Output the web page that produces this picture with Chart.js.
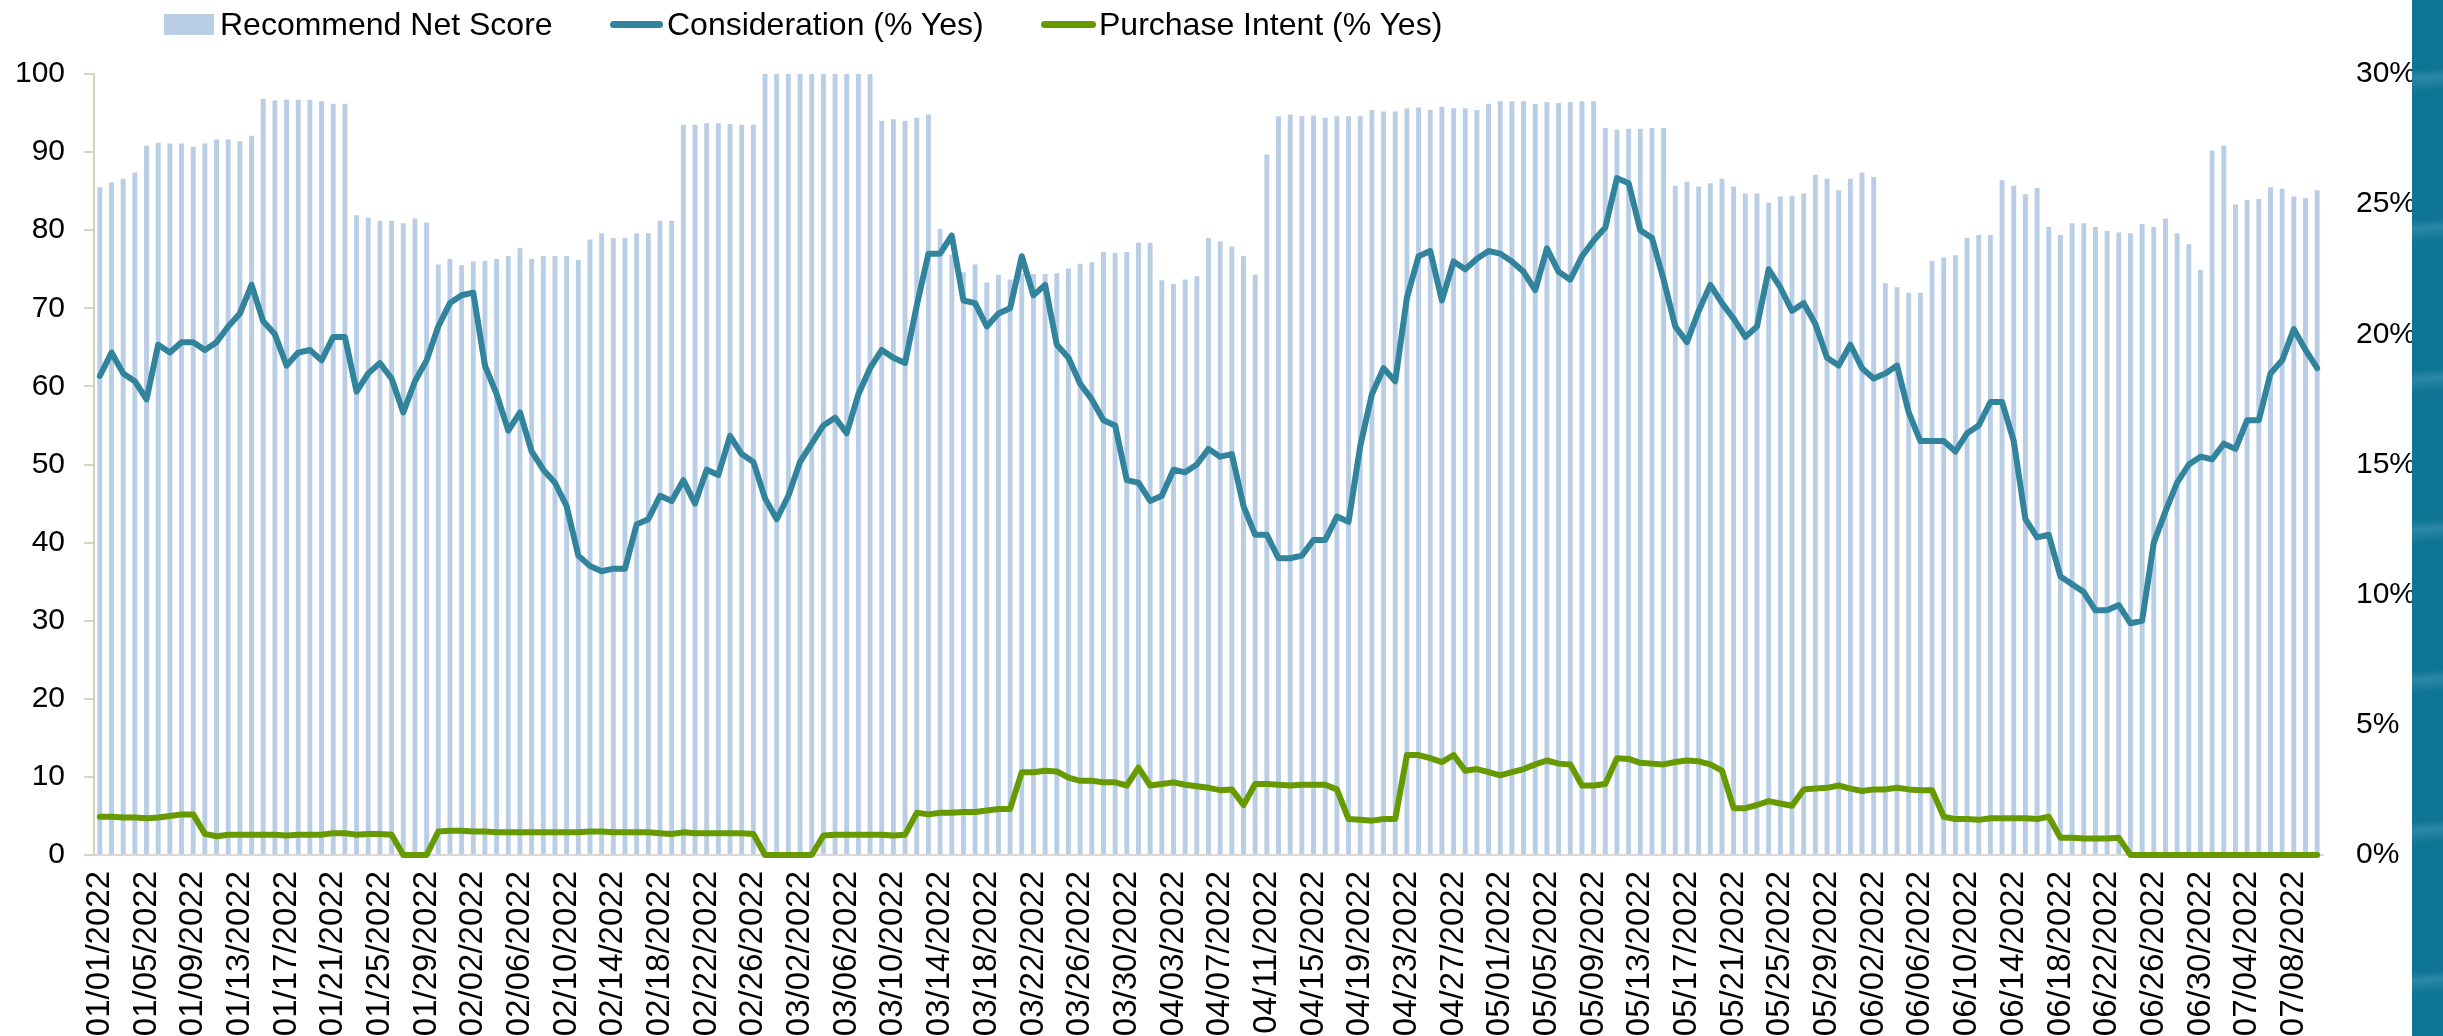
<!DOCTYPE html>
<html>
<head>
<meta charset="utf-8">
<script src="https://cdn.jsdelivr.net/npm/chart.js@4"></script>
<style>
  html, body { margin: 0; padding: 0; background: #fff; }
  #wrap { position: relative; width: 2443px; height: 1036px; overflow: hidden; font-family: "Liberation Sans", Arial, sans-serif; }
  #graphique { position: absolute; left: 0; top: 0; }
  .leg { position: absolute; top: 8px; font-size: 32px; line-height: 32px; color: #000; white-space: nowrap; }
  .leg-box { position: absolute; left: 164px; top: 14px; width: 50px; height: 21px; background: #B9CDE5; }
  .leg-line { position: absolute; top: 21px; height: 7px; border-radius: 4px; }
  #bande { position: absolute; left: 2412px; top: 0; width: 31px; height: 1036px;
    background: repeating-linear-gradient(176deg, #0f7594 0px, #0f7594 70px, #2a88a5 78px, #0f7594 92px, #0f7594 150px); }
</style>
</head>
<body>
<div id="wrap">
  <canvas id="graphique" width="2443" height="1036"></canvas>
  <div class="leg-box"></div>
  <span class="leg" style="left:220px">Recommend Net Score</span>
  <div class="leg-line" style="left:610px;width:53px;background:#31849B"></div>
  <span class="leg" style="left:667px">Consideration (% Yes)</span>
  <div class="leg-line" style="left:1041px;width:55px;background:#669A00"></div>
  <span class="leg" style="left:1099px">Purchase Intent (% Yes)</span>
  <div id="bande"></div>
</div>
<script>
// daily categories, 01/01/2022 -> 07/10/2022
const debut = new Date(2022, 0, 1);
const nbJours = 191;
const dates = [];
for (let i = 0; i < nbJours; i++) {
    const d = new Date(debut.getFullYear(), debut.getMonth(), debut.getDate() + i);
    const mm = String(d.getMonth() + 1).padStart(2, '0');
    const dd = String(d.getDate()).padStart(2, '0');
    dates.push(mm + '/' + dd + '/' + d.getFullYear());
}

// Recommend Net Score (left axis)
const recommande = [
    85.5, 86.1, 86.6, 87.4, 90.8, 91.2, 91.1, 91.1, 90.7, 91.1,
    91.6, 91.6, 91.4, 92.1, 96.8, 96.6, 96.7, 96.7, 96.7, 96.5,
    96.2, 96.2, 81.9, 81.6, 81.2, 81.2, 80.9, 81.5, 81.0, 75.6,
    76.3, 75.5, 76.0, 76.1, 76.3, 76.7, 77.7, 76.3, 76.7, 76.7,
    76.7, 76.2, 78.8, 79.6, 79.0, 79.0, 79.6, 79.6, 81.2, 81.2,
    93.5, 93.5, 93.7, 93.7, 93.6, 93.5, 93.5, 100, 100, 100,
    100, 100, 100, 100, 100, 100, 100, 94.0, 94.2, 94.0,
    94.4, 94.8, 80.2, 76.9, 74.6, 75.6, 73.3, 74.3, 73.7, 74.5,
    74.4, 74.4, 74.5, 75.1, 75.7, 75.9, 77.2, 77.1, 77.2, 78.4,
    78.4, 73.6, 73.1, 73.7, 74.1, 79.0, 78.6, 77.9, 76.7, 74.3,
    89.7, 94.6, 94.8, 94.6, 94.7, 94.4, 94.6, 94.6, 94.6, 95.4,
    95.2, 95.2, 95.6, 95.7, 95.4, 95.8, 95.6, 95.6, 95.4, 96.2,
    96.5, 96.5, 96.5, 96.2, 96.4, 96.3, 96.4, 96.5, 96.5, 93.1,
    92.9, 93.0, 93.0, 93.1, 93.1, 85.7, 86.2, 85.6, 86.0, 86.6,
    85.6, 84.7, 84.7, 83.5, 84.3, 84.4, 84.7, 87.1, 86.6, 85.1,
    86.6, 87.4, 86.8, 73.2, 72.7, 72.0, 72.0, 76.1, 76.5, 76.8,
    79.0, 79.4, 79.4, 86.4, 85.7, 84.6, 85.4, 80.4, 79.4, 80.9,
    80.9, 80.4, 79.9, 79.7, 79.6, 80.8, 80.4, 81.5, 79.6, 78.2,
    74.9, 90.2, 90.8, 83.3, 83.9, 84.0, 85.5, 85.3, 84.3, 84.1,
    85.1
];

// Consideration (% Yes), right axis
const consideration = [
    18.4, 19.3, 18.5, 18.2, 17.5, 19.6, 19.3, 19.7, 19.7, 19.4,
    19.7, 20.3, 20.8, 21.9, 20.5, 20.0, 18.8, 19.3, 19.4, 19.0,
    19.9, 19.9, 17.8, 18.5, 18.9, 18.3, 17.0, 18.2, 19.0, 20.3,
    21.2, 21.5, 21.6, 18.8, 17.7, 16.3, 17.0, 15.5, 14.8, 14.3,
    13.4, 11.5, 11.1, 10.9, 11.0, 11.0, 12.7, 12.9, 13.8, 13.6,
    14.4, 13.5, 14.8, 14.6, 16.1, 15.4, 15.1, 13.7, 12.9, 13.8,
    15.1, 15.8, 16.5, 16.8, 16.2, 17.7, 18.7, 19.4, 19.1, 18.9,
    21.1, 23.1, 23.1, 23.8, 21.3, 21.2, 20.3, 20.8, 21.0, 23.0,
    21.5, 21.9, 19.6, 19.1, 18.1, 17.5, 16.7, 16.5, 14.4, 14.3,
    13.6, 13.8, 14.8, 14.7, 15.0, 15.6, 15.3, 15.4, 13.4, 12.3,
    12.3, 11.4, 11.4, 11.5, 12.1, 12.1, 13.0, 12.8, 15.7, 17.7,
    18.7, 18.2, 21.4, 23.0, 23.2, 21.3, 22.8, 22.5, 22.9, 23.2,
    23.1, 22.8, 22.4, 21.7, 23.3, 22.4, 22.1, 23.0, 23.6, 24.1,
    26.0, 25.8, 24.0, 23.7, 22.1, 20.3, 19.7, 20.9, 21.9, 21.2,
    20.6, 19.9, 20.3, 22.5, 21.8, 20.9, 21.2, 20.4, 19.1, 18.8,
    19.6, 18.7, 18.3, 18.5, 18.8, 17.0, 15.9, 15.9, 15.9, 15.5,
    16.2, 16.5, 17.4, 17.4, 15.9, 12.9, 12.2, 12.3, 10.7, 10.4,
    10.1, 9.4, 9.4, 9.6, 8.9, 9.0, 12.0, 13.2, 14.3, 15.0,
    15.3, 15.2, 15.8, 15.6, 16.7, 16.7, 18.5, 19.0, 20.2, 19.4,
    18.7
];

// Purchase Intent (% Yes), right axis
const intentionAchat = [
    1.47, 1.47, 1.44, 1.44, 1.41, 1.44, 1.50, 1.56, 1.56, 0.81,
    0.72, 0.78, 0.78, 0.78, 0.78, 0.78, 0.75, 0.78, 0.78, 0.78,
    0.84, 0.84, 0.78, 0.81, 0.81, 0.78, 0, 0, 0, 0.90,
    0.93, 0.93, 0.90, 0.90, 0.87, 0.87, 0.87, 0.87, 0.87, 0.87,
    0.87, 0.87, 0.90, 0.90, 0.87, 0.87, 0.87, 0.87, 0.84, 0.81,
    0.87, 0.84, 0.84, 0.84, 0.84, 0.84, 0.81, 0, 0, 0,
    0, 0, 0.75, 0.78, 0.78, 0.78, 0.78, 0.78, 0.75, 0.78,
    1.62, 1.56, 1.62, 1.62, 1.65, 1.65, 1.71, 1.77, 1.77, 3.18,
    3.18, 3.24, 3.21, 2.97, 2.85, 2.85, 2.79, 2.79, 2.67, 3.36,
    2.67, 2.73, 2.79, 2.70, 2.64, 2.58, 2.49, 2.52, 1.92, 2.73,
    2.73, 2.70, 2.67, 2.70, 2.70, 2.70, 2.52, 1.38, 1.35, 1.32,
    1.38, 1.38, 3.84, 3.84, 3.72, 3.57, 3.84, 3.24, 3.30, 3.18,
    3.06, 3.18, 3.30, 3.48, 3.63, 3.51, 3.48, 2.67, 2.67, 2.73,
    3.72, 3.69, 3.54, 3.51, 3.48, 3.57, 3.63, 3.60, 3.48, 3.24,
    1.80, 1.80, 1.92, 2.07, 1.98, 1.89, 2.52, 2.55, 2.58, 2.67,
    2.55, 2.46, 2.52, 2.52, 2.58, 2.52, 2.49, 2.49, 1.47, 1.38,
    1.38, 1.35, 1.41, 1.41, 1.41, 1.41, 1.38, 1.47, 0.66, 0.66,
    0.63, 0.63, 0.63, 0.66, 0, 0, 0, 0, 0, 0,
    0, 0, 0, 0, 0, 0, 0, 0, 0, 0,
    0
];

// tick labels
const ticksGauche = [0, 10, 20, 30, 40, 50, 60, 70, 80, 90, 100];
const ticksDroite = [0, 5, 10, 15, 20, 25, 30];
const pasEtiquettes = 4;

const police = "'Liberation Sans', Arial, sans-serif";
const beige = '#D8D3BD';

const graphique = document.getElementById('graphique');

new Chart(graphique, {
    type: 'bar',
    data: {
        labels: dates,
        datasets: [{
            type: 'line',
            label: 'Consideration (% Yes)',
            data: consideration,
            yAxisID: 'y1',
            borderColor: '#31849B',
            borderWidth: 6,
            borderJoinStyle: 'round',
            borderCapStyle: 'round',
            pointRadius: 0,
            tension: 0,
            clip: false,
            order: 1
        }, {
            type: 'line',
            label: 'Purchase Intent (% Yes)',
            data: intentionAchat,
            yAxisID: 'y1',
            borderColor: '#669A00',
            borderWidth: 6,
            borderJoinStyle: 'round',
            borderCapStyle: 'round',
            pointRadius: 0,
            tension: 0,
            clip: false,
            order: 2
        }, {
            label: 'Recommend Net Score',
            data: recommande,
            yAxisID: 'y',
            backgroundColor: '#B9CDE5',
            categoryPercentage: 1,
            barPercentage: 0.42,
            order: 3
        }]
    },
    options: {
        responsive: false,
        animation: false,
        devicePixelRatio: 1,
        layout: {
            padding: { top: 74, left: 0, right: 0, bottom: 0 }
        },
        plugins: {
            legend: { display: false },
            tooltip: { enabled: false }
        },
        scales: {
            x: {
                grid: { display: false },
                border: { color: '#D9D9D9', width: 2 },
                ticks: {
                    autoSkip: false,
                    minRotation: 90,
                    maxRotation: 90,
                    padding: 8,
                    color: '#000',
                    font: { family: police, size: 33 },
                    callback: function (valeur, index) {
                        return index % pasEtiquettes === 0 ? dates[index] : '';
                    }
                },
                afterFit: function (scale) {
                    scale.height = 181;
                }
            },
            y: {
                position: 'left',
                min: 0,
                max: 100,
                afterBuildTicks: function (scale) {
                    scale.ticks = ticksGauche.map(v => ({ value: v }));
                },
                grid: { drawOnChartArea: false, tickLength: 10, color: beige, lineWidth: 2 },
                border: { color: beige, width: 2 },
                ticks: {
                    padding: 19,
                    color: '#000',
                    font: { family: police, size: 30 }
                },
                afterFit: function (scale) {
                    scale.width = 94;
                }
            },
            y1: {
                position: 'right',
                min: 0,
                max: 30,
                afterBuildTicks: function (scale) {
                    scale.ticks = ticksDroite.map(v => ({ value: v }));
                },
                grid: { display: false },
                border: { display: false },
                ticks: {
                    padding: 25,
                    color: '#000',
                    font: { family: police, size: 30 },
                    callback: function (valeur) {
                        return valeur + '%';
                    }
                },
                afterFit: function (scale) {
                    scale.width = 120;
                }
            }
        }
    }
});
</script>
</body>
</html>
